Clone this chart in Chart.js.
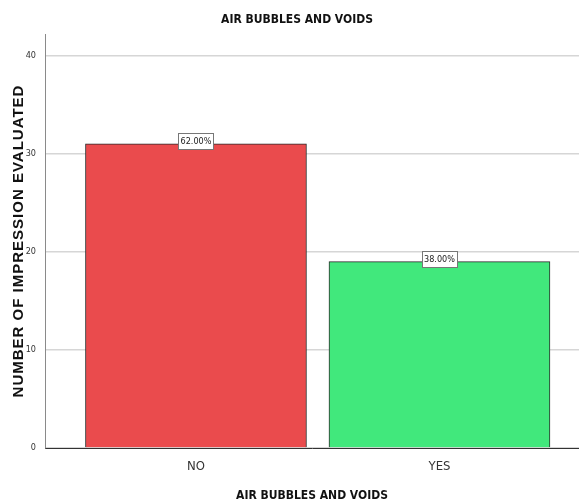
<!DOCTYPE html>
<html>
<head>
<meta charset="utf-8">
<script src="https://cdn.jsdelivr.net/npm/chart.js@4.4.1/dist/chart.umd.min.js"></script>
<style>
  html, body { margin: 0; padding: 0; background: #fff; }
  #wrap { width: 579px; height: 504px; }
</style>
</head>
<body>
<div id="wrap"><canvas id="airChart" width="579" height="504"></canvas></div>
<script>
const categories = ['NO', 'YES'];
const counts = [31, 19];
const barColors = ['#ea4b4d', '#41e87c'];
const yTicks = [0, 10, 20, 30, 40];

const chartTitle = 'AIR BUBBLES AND VOIDS';
const xTitle = 'AIR BUBBLES AND VOIDS';
const yTitle = 'NUMBER OF IMPRESSION EVALUATED';

const narrow = "'Liberation Sans Narrow', 'Arial Narrow', 'DejaVu Sans Condensed', sans-serif";
const total = counts.reduce((a, b) => a + b, 0);

// heading above the plot and the spaced-out vertical axis title
const titlePlugin = {
    id: 'titles',
    afterDraw(chart) {
        const ctx = chart.ctx;
        const area = chart.chartArea;
        ctx.save();
        ctx.font = 'bold 12px ' + narrow;
        ctx.fillStyle = '#111';
        ctx.textAlign = 'center';
        ctx.textBaseline = 'middle';
        ctx.fillText(chartTitle, 297, 20);

        ctx.translate(18, (area.top + area.bottom) / 2);
        ctx.rotate(-Math.PI / 2);
        ctx.font = "bold 15px 'Liberation Sans', Arial, sans-serif";
        ctx.letterSpacing = '1px';
        ctx.fillText(yTitle, 0, 1);
        ctx.restore();
    }
};

// boxed percentage on top of each bar
const percentPlugin = {
    id: 'percentBoxes',
    afterDatasetsDraw(chart) {
        const ctx = chart.ctx;
        const meta = chart.getDatasetMeta(0);
        ctx.save();
        ctx.font = '9px ' + narrow;
        ctx.textAlign = 'center';
        ctx.textBaseline = 'middle';
        meta.data.forEach((bar, i) => {
            const text = (counts[i] / total * 100).toFixed(2) + '%';
            const w = Math.round(ctx.measureText(text).width + 4);
            const h = 16;
            const left = Math.round(bar.x - w / 2) + 0.5;
            const top = Math.round(bar.y - 3 - h / 2) + 0.5;
            ctx.fillStyle = '#fff';
            ctx.fillRect(left, top, w, h);
            ctx.strokeStyle = '#777';
            ctx.lineWidth = 1;
            ctx.strokeRect(left, top, w, h);
            ctx.fillStyle = '#222';
            ctx.fillText(text, bar.x, top + h / 2 + 0.5);
        });
        ctx.restore();
    }
};

new Chart(document.getElementById('airChart'), {
    type: 'bar',
    data: {
        datasets: [{
            data: counts.map((v, i) => ({ x: i + 1, y: v })),
            backgroundColor: barColors,
            borderColor: '#2b2b2b',
            borderWidth: 1,
            barThickness: 221
        }]
    },
    options: {
        responsive: false,
        animation: false,
        layout: { padding: { top: 34, right: 0, left: 0, bottom: 0 } },
        plugins: {
            legend: { display: false },
            tooltip: { enabled: false }
        },
        scales: {
            x: {
                type: 'linear',
                offset: false,
                min: 0.38,
                max: 2.573,
                afterFit(scale) { scale.height = 56; },
                afterBuildTicks(scale) {
                    scale.ticks = categories.map((c, i) => ({ value: i + 1 }));
                },
                grid: { display: false, drawTicks: false, offset: false },
                border: { display: true, color: '#333', width: 1 },
                ticks: {
                    padding: 11,
                    color: '#333',
                    font: { family: narrow, size: 13 },
                    callback: (v) => categories[v - 1]
                },
                title: {
                    display: true,
                    text: xTitle,
                    color: '#111',
                    font: { family: narrow, size: 12, weight: 'bold' },
                    padding: { top: 0, bottom: 1 }
                }
            },
            y: {
                min: 0,
                max: 42.2,
                afterFit(scale) { scale.width = 45; },
                afterBuildTicks(scale) {
                    scale.ticks = yTicks.map(v => ({ value: v }));
                },
                grid: { color: '#d6d6d6', lineWidth: 1.5, drawTicks: false },
                border: { display: true, color: '#8a8a8a', width: 1 },
                ticks: {
                    padding: 9,
                    color: '#333',
                    font: { family: narrow, size: 9 }
                }
            }
        }
    },
    plugins: [titlePlugin, percentPlugin]
});
</script>
</body>
</html>
